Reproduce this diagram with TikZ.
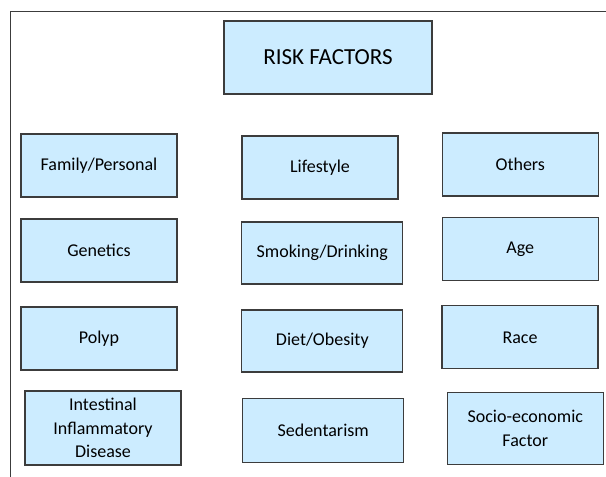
\documentclass[tikz,border=0pt]{standalone}
\usepackage{fontspec}
\setmainfont{Carlito}
\definecolor{boxblue}{RGB}{204,236,255}
\definecolor{boxline}{RGB}{60,60,60}
\begin{document}
\begin{tikzpicture}[x=1pt,y=-1pt,
    factor/.style={draw=boxline,fill=boxblue,line width=1.2pt,align=center,
        minimum width=156pt,minimum height=63pt,inner sep=2pt,
        font=\fontsize{18}{23.5}\selectfont},
    title/.style={factor,minimum width=208pt,minimum height=73pt,
        font=\fontsize{23}{28}\selectfont}]
                \useasboundingbox (0,0) rectangle (606,477);
                \draw[boxline,line width=1pt] (10,477)--(10,11)--(606,11);
                \node[title] (risk) at (328,57.5) {RISK FACTORS};
                % first column
                \node[factor] (family) at (99,165.5) {Family/Personal};
                \node[factor] (genetics) at (99,250.5) {Genetics};
                \node[factor] (polyp) at (99,338.5) {Polyp};
                \node[factor,minimum height=74pt] (ibd) at (103,428) {Intestinal\\Inflammatory\\Disease};
                % second column
                \node[factor] (lifestyle) at (320,167.5) {Lifestyle};
                \node[factor,minimum width=161pt,minimum height=62pt] (smoking) at (322.2,253) {Smoking/Drinking};
                \node[factor,minimum width=161pt,minimum height=62pt] (diet) at (322.3,341) {Diet/Obesity};
                \node[factor,minimum width=161pt,minimum height=64pt] (sedentary) at (323.2,430.8) {Sedentarism};
                % third column
                \node[factor] (others) at (520.3,164.5) {Others};
                \node[factor] (age) at (520.2,249.3) {Age};
                \node[factor] (race) at (520,337.3) {Race};
                \node[factor,minimum height=72pt] (socio) at (525.3,428.2) {Socio-economic\\Factor};
\end{tikzpicture}
\end{document}
